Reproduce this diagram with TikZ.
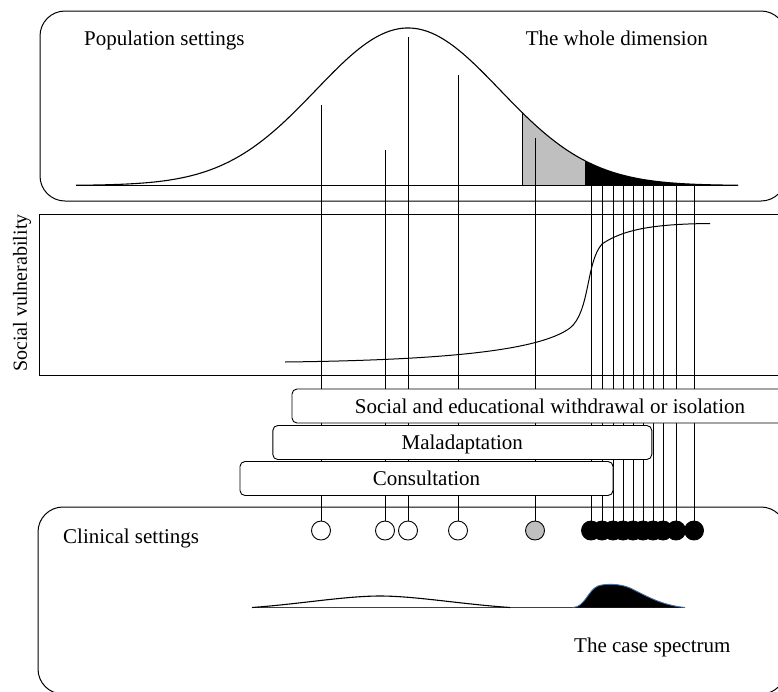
\documentclass[tikz,border=0pt]{standalone}
\usepackage{fontspec}
\setmainfont{Liberation Serif}
\definecolor{tailgray}{RGB}{191,191,191}
\definecolor{steel}{RGB}{70,110,160}
\begin{document}
\begin{tikzpicture}[x=1pt,y=-1pt,
  declare function={bell(\x)=185.5-157.5*exp(-0.5*((\x-408)/92)^2);},
  lbl/.style={font=\fontsize{21}{25}\selectfont, inner sep=0pt},
  box/.style={draw, line width=1pt, rounded corners=25pt},
  barbox/.style={draw, fill=white, line width=0.9pt, rounded corners=5pt, minimum height=34pt, inner sep=0pt, font=\fontsize{21}{25}\selectfont, text height=14pt, text depth=0pt},
  vline/.style={line width=0.9pt},
  dot/.style={circle, draw, line width=0.9pt, minimum size=19pt, inner sep=0pt},
  curve/.style={line width=1.1pt}
]
\useasboundingbox (0,0) rectangle (778,691);
\clip (0,0) rectangle (778,691);

% boxes
\draw[box] (40,11) rectangle (786,201);
\draw[line width=1pt] (39.5,214) rectangle (790,375.5);
\draw[box] (38,507) rectangle (786,694);

% texts
\node[lbl, anchor=base west] (pop) at (84,45) {Population settings};
\node[lbl, anchor=base east] (whole) at (708,45.5) {The whole dimension};
\node[lbl, anchor=base west] (clin) at (63,543) {Clinical settings};
\node[lbl, anchor=base west] (case) at (574,652) {The case spectrum};
\node[font=\fontsize{20}{24}\selectfont, inner sep=0pt, rotate=90, anchor=base] (sv) at (27,293) {Social vulnerability};

% bell curve with tails
\fill[tailgray] (522,185.5) -- plot[domain=522:585, samples=40, smooth] (\x,{bell(\x)}) -- (585,185.5) -- cycle;
\fill[black] (585,185.5) -- plot[domain=585:738, samples=60, smooth] (\x,{bell(\x)}) -- (738,185.5) -- cycle;
\draw[vline] (522,185.5) -- (522,{bell(522)});
\draw[curve] plot[domain=76:738, samples=200, smooth] (\x,{bell(\x)});
\draw[curve] (76,185.5) -- (738,185.5);

% sigmoid
\draw[line width=1pt] (285,362) .. controls (450,360) and (540,350) .. (570,328)
  .. controls (590,312) and (586,262) .. (602,244)
  .. controls (625,228) and (660,224) .. (710,223.5);

% circles
\node[dot, fill=white] (c1) at (321,530.5) {};
\node[dot, fill=white] (c2) at (385,530.5) {};
\node[dot, fill=white] (c3) at (408,530.5) {};
\node[dot, fill=white] (c4) at (458,530.5) {};
\node[dot, fill=tailgray] (c5) at (535,530.5) {};
\foreach \n/\xx in {1/591,2/602,3/613,4/623,5/633,6/643,7/653,8/663,9/676,10/694}{
  \node[dot, fill=black] (t\n) at (\xx,530.5) {};
}

% vertical lines
\draw[vline] (321,105) -- (c1.north);
\draw[vline] (385,150) -- (c2.north);
\draw[vline] (408,37) -- (c3.north);
\draw[vline] (458,75) -- (c4.north);
\draw[vline] (535,138) -- (c5.north);
\foreach \n/\xx in {1/591,2/602,3/613,4/623,5/633,6/643,7/653,8/663,9/676,10/694}{
  \draw[vline] (\xx,185.5) -- (t\n.north);
}

% bars
\node[barbox, minimum width=516pt] (soc) at (550,406) {Social and educational withdrawal or isolation};
\node[barbox, minimum width=379pt] (mal) at (462.3,442.5) {Maladaptation};
\node[barbox, minimum width=373pt] (con) at (426.5,478.5) {Consultation};

% case spectrum
\draw[curve, black!75] (252,607.5) -- (685,607.5);
\draw[curve] (252,607.5) .. controls (300,604) and (345,596) .. (380,596)
  .. controls (415,596) and (460,604) .. (510,607.5);
\fill[black] (573,607.5) .. controls (585,607) and (588,590) .. (598,586)
  .. controls (605,583.5) and (620,583.5) .. (630,588)
  .. controls (645,595) and (660,605) .. (685,607.5) -- cycle;
\draw[steel, line width=0.9pt] (573,607.5) .. controls (585,607) and (588,590) .. (598,586)
  .. controls (605,583.5) and (620,583.5) .. (630,588)
  .. controls (645,595) and (660,605) .. (685,607.5);
\end{tikzpicture}
\end{document}
